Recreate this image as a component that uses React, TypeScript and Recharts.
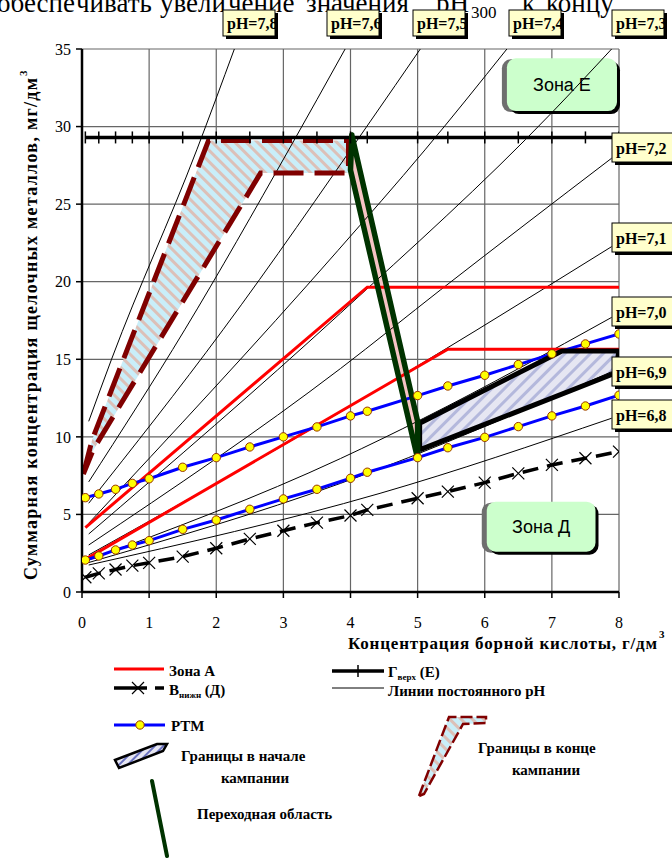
import React from "react"
import { ComposedChart, Line, Area, XAxis, YAxis, CartesianGrid, ReferenceArea } from "recharts"

// x of the RTM / boundary markers, g/dm3
const markerX = [0.05, 0.25, 0.5, 0.75, 1, 1.5, 2, 2.5, 3, 3.5, 4, 4.25, 5, 5.45, 6, 6.5, 7, 7.5, 8]
const rtmUpper = [6.08, 6.32, 6.62, 7.0, 7.3, 8.04, 8.66, 9.35, 10.0, 10.64, 11.35, 11.65, 12.66, 13.28, 13.97, 14.66, 15.35, 15.99, 16.63]
const rtmLower = [2.06, 2.32, 2.71, 3.03, 3.31, 4.04, 4.64, 5.33, 6.0, 6.62, 7.33, 7.72, 8.66, 9.3, 9.97, 10.66, 11.35, 11.99, 12.68]
const bLower = [0.95, 1.2, 1.45, 1.7, 1.88, 2.28, 2.82, 3.42, 3.95, 4.47, 4.93, 5.29, 6.04, 6.47, 7.05, 7.65, 8.19, 8.62, 9.05]
const gUpper = [29.3, 29.3, 29.3, 29.3, 29.3, 29.3, 29.3, 29.3, 29.3, 29.3, 29.3, 29.3, 29.3, 29.3, 29.3, 29.3, 29.3, 29.3, 29.3]

// Zone A boundaries
const zoneAUpperX = [0.05, 4.25, 8]
const zoneAUpperY = [4.15, 19.65, 19.65]
const zoneALowerX = [0.05, 5.45, 8]
const zoneALowerY = [2.1, 15.65, 15.65]

// lines of constant pH
const phNames = ["7,8", "7,6", "7,5", "7,4", "7,3", "7,2", "7,1", "7,0", "6,9", "6,8"]
const phX = [
  [0.1, 0.44, 1.71, 2.27],
  [0.1, 1.53, 3.08, 3.92],
  [0.1, 2.1, 4.29, 5.04],
  [0.1, 3.81, 5.11, 6.33],
  [0.1, 3.85, 7.0, 7.89],
  [0.1, 3.85, 5.34, 7.89],
  [0.1, 3.85, 7.89],
  [0.1, 3.85, 5.09, 7.89],
  [0.1, 3.85, 7.89],
  [0.1, 4.44, 7.89],
]
const phY = [
  [11.0, 15.0, 28.5, 35],
  [7.1, 16.9, 28.5, 35],
  [5.72, 16.9, 30.3, 35],
  [4.43, 22.0, 28.5, 35],
  [3.74, 17.97, 30.9, 35],
  [3.03, 14.4, 19.47, 27.96],
  [2.39, 11.6, 22.26],
  [2.06, 8.6, 11.2, 17.7],
  [1.9, 7.0, 14.2],
  [1.74, 6.36, 11.2],
]

// boundaries at the end of the campaign
const endOutlineX = [0.02, 0.15, 1.885, 3.97, 3.97, 2.66, 0.17, 0.02]
const endOutlineY = [7.6, 9.8, 29.1, 29.1, 27.0, 27.0, 9.2, 7.6]
const endFillX = [0.02, 0.15, 1.885, 2.66, 3.97]
const endFillLow = [7.6, 9.0, 21.45, 27.0, 27.0]
const endFillHigh = [7.6, 9.8, 29.1, 29.1, 29.1]

// boundaries at the start of the campaign
const startOutlineX = [5.03, 5.03, 7.15, 8.0, 7.94, 5.03]
const startOutlineY = [9.16, 10.88, 15.54, 15.54, 14.1, 9.16]
const startFillX = [5.03, 7.15, 7.94, 8.0]
const startFillLow = [9.16, 12.76, 14.1, 15.54]
const startFillHigh = [10.88, 15.54, 15.54, 15.54]

// transition region
const transOutlineX = [4.02, 5.0, 5.0, 4.0, 4.02]
const transOutlineY = [29.45, 11.0, 8.6, 27.2, 29.45]
const transFillX = [4.0, 5.0]
const transFillLow = [27.2, 8.6]
const transFillHigh = [29.45, 11.0]

const xTicks = [0, 1, 2, 3, 4, 5, 6, 7, 8]
const yTicks = [0, 5, 10, 15, 20, 25, 30, 35]

const pts = (xa: number[], ya: number[]) => xa.map((x, i) => ({ x, y: ya[i] }))
const band = (xa: number[], lo: number[], hi: number[]) => xa.map((x, i) => ({ x, r: [lo[i], hi[i]] }))

const serif = "'Liberation Serif', 'Times New Roman', serif"

const rtmDot = (p: any) => (
  <circle key={"r" + p.index} cx={p.cx} cy={p.cy} r={4.2} fill="#ffff00" stroke="#993300" strokeWidth={1} />
)
const crossDot = (p: any) => (
  <path
    key={"c" + p.index}
    d={`M${p.cx - 6},${p.cy - 6}L${p.cx + 6},${p.cy + 6}M${p.cx - 6},${p.cy + 6}L${p.cx + 6},${p.cy - 6}`}
    stroke="#000"
    strokeWidth={1.2}
  />
)
const tickDot = (p: any) => (
  <path key={"t" + p.index} d={`M${p.cx},${p.cy - 6}V${p.cy + 6}`} stroke="#000" strokeWidth={1.5} />
)

const ZoneBox = (props: any) => {
  const { x, y, width, height, text } = props
  return (
    <g>
      <rect x={x - 5} y={y + 1} width={width} height={height} rx={9} fill="#6e6e6e" />
      <rect x={x + 3} y={y + 3} width={width} height={height} rx={9} fill="#000" />
      <rect x={x} y={y} width={width} height={height} rx={9} fill="#ccffcc" />
      <text x={x + width / 2} y={y + height / 2 + 6} textAnchor="middle" fontFamily="'Liberation Sans', Arial" fontSize={18}>
        {text}
      </text>
    </g>
  )
}

const PhBox = ({ x, y, w, h, label }: { x: number; y: number; w: number; h: number; label: string }) => (
  <g>
    <rect x={x + 3} y={y + 3} width={w} height={h} fill="#000" />
    <rect x={x} y={y} width={w} height={h} fill="#ffffcc" stroke="#000" strokeWidth={1} />
    <text x={x + 4} y={y + h / 2 + 6} fontFamily={serif} fontWeight="bold" fontSize={16}>
      pH={label}
    </text>
  </g>
)

// where the pH labels sit (top row, then the right column)
const topBoxX = [223, 327, 413, 509, 612]
const rightBoxY = [133, 223, 297, 357, 400]

export default function App() {
  return (
    <div style={{ position: "absolute", left: 0, top: 0, width: 672, height: 858, background: "#fff" }}>
      <ComposedChart width={672} height={858} margin={{ top: 49, right: 53, bottom: 236, left: 22 }}>
        <defs>
          <pattern id="hatchEnd" width="8" height="8" patternUnits="userSpaceOnUse" patternTransform="rotate(-45)">
            <rect width="8" height="8" fill="#c9eef9" />
            <rect width="3" height="8" fill="#dcc0b8" />
          </pattern>
          <pattern id="hatchStart" width="9" height="9" patternUnits="userSpaceOnUse" patternTransform="rotate(45)">
            <rect width="9" height="9" fill="#e6e6f2" />
            <rect width="3" height="9" fill="#b4b8dc" />
          </pattern>
        </defs>
        <CartesianGrid stroke="#666" strokeWidth={1.2} />
        <XAxis
          dataKey="x"
          type="number"
          domain={[0, 8]}
          ticks={xTicks}
          allowDataOverflow
          height={30}
          tickSize={6}
          tickMargin={19}
          axisLine={{ stroke: "#000", strokeWidth: 2.5 }}
          tickLine={{ stroke: "#000", strokeWidth: 1.5 }}
          tick={{ fill: "#000", fontSize: 16, fontFamily: serif }}
        />
        <YAxis
          type="number"
          domain={[0, 35]}
          ticks={yTicks}
          allowDataOverflow
          width={60}
          tickSize={6}
          tickMargin={5}
          axisLine={{ stroke: "#000", strokeWidth: 2.5 }}
          tickLine={{ stroke: "#000", strokeWidth: 1.5 }}
          tick={{ fill: "#000", fontSize: 16, fontFamily: serif }}
        />
        {phNames.map((n, i) => (
          <Line
            key={n}
            data={pts(phX[i], phY[i])}
            dataKey="y"
            type="monotone"
            stroke="#000"
            strokeWidth={1}
            dot={false}
            isAnimationActive={false}
          />
        ))}
        <Area data={band(endFillX, endFillLow, endFillHigh)} dataKey="r" type="linear" stroke="none" fill="url(#hatchEnd)" fillOpacity={1} isAnimationActive={false} />
        <Line
          data={pts(endOutlineX, endOutlineY)}
          dataKey="y"
          type="linear"
          stroke="#800000"
          strokeWidth={5}
          strokeDasharray="30 11"
          dot={false}
          isAnimationActive={false}
        />
        <Line data={pts(zoneAUpperX, zoneAUpperY)} dataKey="y" type="linear" stroke="#ff0000" strokeWidth={3} dot={false} isAnimationActive={false} />
        <Line data={pts(zoneALowerX, zoneALowerY)} dataKey="y" type="linear" stroke="#ff0000" strokeWidth={3} dot={false} isAnimationActive={false} />
        <Line
          data={pts(markerX, bLower)}
          dataKey="y"
          type="linear"
          stroke="#000"
          strokeWidth={3.5}
          strokeDasharray="16 9"
          dot={crossDot}
          isAnimationActive={false}
        />
        <Line data={pts(markerX, rtmUpper)} dataKey="y" type="linear" stroke="#0000ff" strokeWidth={3} dot={rtmDot} isAnimationActive={false} />
        <Line data={pts(markerX, rtmLower)} dataKey="y" type="linear" stroke="#0000ff" strokeWidth={3} dot={rtmDot} isAnimationActive={false} />
        <Area data={band(startFillX, startFillLow, startFillHigh)} dataKey="r" type="linear" stroke="none" fill="url(#hatchStart)" fillOpacity={1} isAnimationActive={false} />
        <Line
          data={pts(startOutlineX, startOutlineY)}
          dataKey="y"
          type="linear"
          stroke="#000"
          strokeWidth={5}
          strokeLinejoin="round"
          dot={false}
          isAnimationActive={false}
        />
        <Line data={pts(markerX, gUpper)} dataKey="y" type="linear" stroke="#000" strokeWidth={3.5} dot={tickDot} isAnimationActive={false} />
        <Area data={band(transFillX, transFillLow, transFillHigh)} dataKey="r" type="linear" stroke="none" fill="#f6c4c4" fillOpacity={1} isAnimationActive={false} />
        <Line
          data={pts(transOutlineX, transOutlineY)}
          dataKey="y"
          type="linear"
          stroke="#003300"
          strokeWidth={5.5}
          strokeLinejoin="round"
          strokeLinecap="round"
          dot={false}
          isAnimationActive={false}
        />
        <ReferenceArea x1={6.33} x2={7.97} y1={31.0} y2={34.4} shape={(p: any) => <ZoneBox {...p} text="Зона Е" />} />
        <ReferenceArea x1={6.03} x2={7.65} y1={2.6} y2={5.82} shape={(p: any) => <ZoneBox {...p} text="Зона Д" />} />
      </ComposedChart>

      <svg width={672} height={858} style={{ position: "absolute", left: 0, top: 0, pointerEvents: "none" }}>
        {/* page text cut off above the figure */}
        <g fontFamily={serif} fontSize={27} fill="#000">
          <text x={-3} y={12}>обеспе</text>
          <text x={76} y={12}>чивать</text>
          <text x={160} y={12}>увели</text>
          <text x={228} y={12}>чение</text>
          <text x={306} y={12}>значения</text>
          <text x={436} y={12}>рН</text>
          <text x={471} y={18} fontSize={17}>300</text>
          <text x={522} y={12}>к</text>
          <text x={546} y={12}>концу</text>
        </g>

        {topBoxX.map((x, i) => (
          <PhBox key={"t" + i} x={x} y={10} w={52} h={26} label={phNames[i]} />
        ))}
        {rightBoxY.map((y, i) => (
          <PhBox key={"r" + i} x={612} y={y} w={62} h={29} label={phNames[i + 5]} />
        ))}

        {/* axis titles */}
        <g fontFamily={serif} fontWeight="bold" fill="#000">
          <text x={348} y={649} fontSize={17} textLength={309} lengthAdjust="spacing">
            Концентрация борной кислоты, г/дм
          </text>
          <text x={659} y={638} fontSize={11}>3</text>
          <g transform="translate(37,580) rotate(-90)">
            <text x={0} y={0} fontSize={18} textLength={502} lengthAdjust="spacing">
              Суммарная концентрация щелочных металлов, мг/дм
            </text>
            <text x={504} y={-10} fontSize={11}>3</text>
          </g>
        </g>

        {/* legend */}
        <g fontFamily={serif} fontWeight="bold" fontSize={15} fill="#000">
          <line x1={114} y1={669} x2={164} y2={669} stroke="#ff0000" strokeWidth={3} />
          <text x={169} y={676}>Зона А</text>

          <line x1={114} y1={688} x2={147} y2={688} stroke="#000" strokeWidth={3.5} />
          <line x1={155} y1={688} x2={164} y2={688} stroke="#000" strokeWidth={3.5} />
          <path d="M132,682L144,694M132,694L144,682" stroke="#000" strokeWidth={1.2} />
          <text x={169} y={695}>
            В<tspan fontSize={9} dy={3}>нижн</tspan>
            <tspan dy={-3}> (Д)</tspan>
          </text>

          <line x1={332} y1={671} x2={384} y2={671} stroke="#000" strokeWidth={3.5} />
          <path d="M358,665V677" stroke="#000" strokeWidth={1.5} />
          <text x={388} y={677}>
            Г<tspan fontSize={9} dy={3}>верх</tspan>
            <tspan dy={-3}> (Е)</tspan>
          </text>

          <line x1={332} y1={688} x2={384} y2={688} stroke="#000" strokeWidth={1} />
          <text x={388} y={696}>Линии постоянного pH</text>

          <line x1={114} y1={725} x2={165} y2={725} stroke="#0000ff" strokeWidth={3} />
          <circle cx={140} cy={725} r={4.2} fill="#ffff00" stroke="#993300" strokeWidth={1} />
          <text x={171} y={731}>РТМ</text>

          <polygon points="115,760 157,744 167,744 163,751 119,768" fill="url(#hatchStartL)" stroke="#000" strokeWidth={2.5} />
          <text x={181} y={761}>Границы в начале</text>
          <text x={255} y={783} textAnchor="middle">кампании</text>

          <path d="M152,781L167,856" stroke="#003300" strokeWidth={4} strokeLinecap="round" />
          <text x={197} y={819}>Переходная область</text>

          <path
            d="M419,796L449,717L486,717L486,723L463,724L424,794Z"
            fill="url(#hatchEndL)"
            stroke="#800000"
            strokeWidth={2.5}
            strokeDasharray="12 4"
          />
          <text x={478} y={753}>Границы в конце</text>
          <text x={546} y={775} textAnchor="middle">кампании</text>
        </g>
        <defs>
          <pattern id="hatchEndL" width="8" height="8" patternUnits="userSpaceOnUse" patternTransform="rotate(-45)">
            <rect width="8" height="8" fill="#c9eef9" />
            <rect width="3" height="8" fill="#dcc0b8" />
          </pattern>
          <pattern id="hatchStartL" width="6" height="6" patternUnits="userSpaceOnUse" patternTransform="rotate(45)">
            <rect width="6" height="6" fill="#e6e6f2" />
            <rect width="2" height="6" fill="#6a72c0" />
          </pattern>
        </defs>
      </svg>
    </div>
  )
}
